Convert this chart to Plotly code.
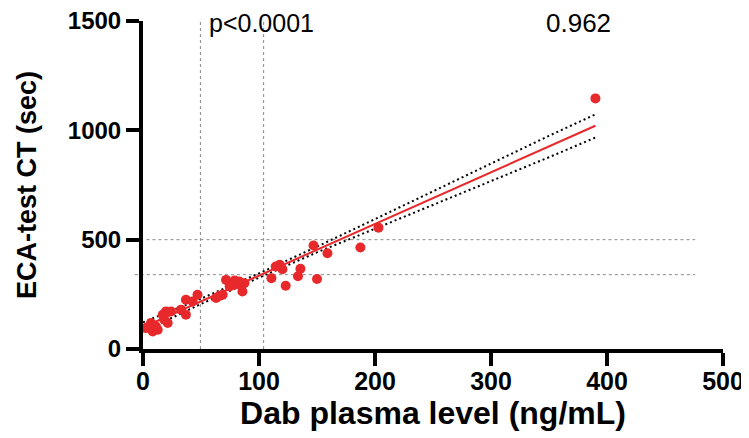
import plotly.graph_objects as go

# Scatter data
dab_level = [2.6, 4.3, 6.9, 8.4, 10, 11.2, 12.7, 17, 18.4, 19.8, 21.3, 24.1,
             32.8, 37, 37, 42.8, 47, 63, 66, 68.7, 71.6, 74.7, 78.8, 79, 83,
             83.4, 85.7, 87.4, 110.7, 114.4, 117.8, 120.2, 123, 133.6, 135.7,
             147, 150, 159, 187.4, 203, 390]
ct_sec = [96, 100, 119, 80, 88, 103, 88, 157, 134, 172, 119, 172,
          180, 157, 225, 217, 248, 233, 243, 248, 316, 286, 294, 313, 309,
          294, 263, 301, 324, 377, 385, 365, 289, 333, 367,
          473, 320, 438, 464, 555, 1146]

# regression line and 95% band
fit_x = [2, 390]
fit_y = [104, 1021]
band_x = [0, 50, 100, 150, 200, 250, 300, 350, 390]
band_hi = [122, 230, 346, 468, 594, 722, 848, 975, 1073]
band_lo = [80, 206, 326, 442, 550, 658, 768, 877, 967]

# reference lines
vlines = [49.5, 104]
hlines = [500, 340]

red = '#e8292c'
font = 'Liberation Sans, Arial, sans-serif'

fig = go.Figure()

for v in vlines:
    fig.add_shape(type='line', x0=v, x1=v, y0=0, y1=1503, xref='x', yref='y',
                  line=dict(color='#8a8a8a', width=1, dash='dot'), layer='below')
fig.add_shape(type='line', x0=0.006, x1=0.952, y0=hlines[0], y1=hlines[0], xref='paper', yref='y',
              line=dict(color='#8a8a8a', width=1, dash='dot'), layer='below')
fig.add_shape(type='line', x0=-0.014, x1=0.952, y0=hlines[1], y1=hlines[1], xref='paper', yref='y',
              line=dict(color='#8a8a8a', width=1, dash='dot'), layer='below')

fig.add_trace(go.Scatter(x=band_x, y=band_hi, mode='lines',
                         line=dict(color='black', width=2, dash='2px,3px'), showlegend=False))
fig.add_trace(go.Scatter(x=band_x, y=band_lo, mode='lines',
                         line=dict(color='black', width=2, dash='2px,3px'), showlegend=False))
fig.add_trace(go.Scatter(x=fit_x, y=fit_y, mode='lines',
                         line=dict(color=red, width=2), showlegend=False))
fig.add_trace(go.Scatter(x=dab_level, y=ct_sec, mode='markers',
                         marker=dict(color=red, size=10), showlegend=False))

# stats text above the plot
fig.add_annotation(x=55, y=1.0, yref='paper', yshift=-2, text='p<0.0001', showarrow=False,
                   xanchor='left', yanchor='middle',
                   font=dict(family=font, size=25, color='black'))
fig.add_annotation(x=375, y=1.0, yref='paper', yshift=-2, text='0.962', showarrow=False,
                   xanchor='center', yanchor='middle',
                   font=dict(family=font, size=26, color='black'))

axis_common = dict(showline=True, linecolor='black', linewidth=4, ticks='outside',
                   ticklen=13, tickwidth=4, tickcolor='black', showgrid=False, zeroline=False,
                   automargin=False, ticklabeloverflow='allow')

fig.update_xaxes(range=[0, 500], tickvals=[0, 100, 200, 300, 400, 500], ticklabelstandoff=-6,
                 tickfont=dict(family=font, size=25, color='black', weight='bold'),
                 title=dict(text='<b>Dab plasma level (ng/mL)</b>', standoff=3,
                            font=dict(family=font, size=32, color='black')),
                 **axis_common)
fig.update_yaxes(range=[0, 1500], tickvals=[0, 500, 1000, 1500], ticklabelstandoff=0,
                 tickfont=dict(family=font, size=24, color='black', weight='bold'),
                 title=dict(text='<b>ECA-test CT (sec)</b>', standoff=24,
                            font=dict(family=font, size=27, color='black')),
                 **axis_common)

# page body adds an 8px offset, so the figure is a bit smaller than the window
fig.update_layout(width=741, height=430, plot_bgcolor='white', paper_bgcolor='white',
                  margin=dict(l=135, r=26, t=13, b=89))

fig.write_html("out.html")
